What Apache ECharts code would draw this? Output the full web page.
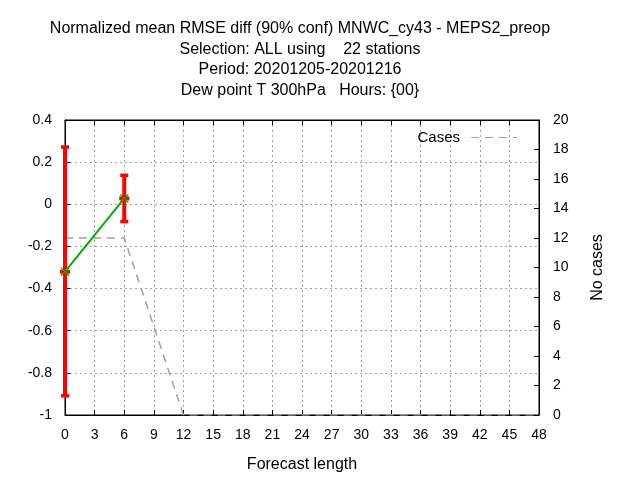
<!DOCTYPE html>
<html><head><meta charset="utf-8">
<script src="https://cdn.jsdelivr.net/npm/echarts@6/dist/echarts.min.js"></script>
<style>html,body{margin:0;padding:0;background:#fff}#c{width:640px;height:480px}</style>
</head><body><div id="c"></div>
<script>
const titleLines = ["Normalized mean RMSE diff (90% conf) MNWC_cy43 - MEPS2_preop","Selection: ALL using    22 stations","Period: 20201205-20201216","Dew point T 300hPa   Hours: {00}"];
const scoreHours = [0, 6];
const scoreValues = [-0.32, 0.028];
const scoreLower = [-0.91, -0.083];
const scoreUpper = [0.273, 0.139];
const caseHours = [0, 6, 12, 18, 24, 30, 36, 42, 48];
const caseValues = [12, 12, 0, 0, 0, 0, 0, 0, 0];

const FONT = "Liberation Sans";
const chart = echarts.init(document.getElementById('c'), null, {renderer:'canvas'});
const errData = scoreHours.map((h,i)=>[h, scoreLower[i], scoreUpper[i], scoreValues[i]]);
const lineData = scoreHours.map((h,i)=>[h, scoreValues[i]]);
const caseData = caseHours.map((h,i)=>[h, caseValues[i]]);
const gridStyle = {show:true, lineStyle:{color:'#a0a0a0', type:[2,3], width:1}};
const axisLineStyle = {show:true, onZero:false, lineStyle:{color:'#000', width:1}};
const tickStyle = {show:true, inside:true, length:5, lineStyle:{color:'#000'}};
chart.setOption({
  animation:false,
  textStyle:{fontFamily:FONT},
  graphic: titleLines.map((t,i)=>({type:'text', x:300, y:21+i*20.4, style:{text:t, fontSize:16, fontFamily:FONT, fill:'#000', textAlign:'center', textVerticalAlign:'top'}})),
  grid:{left:65, right:101, top:120, bottom:65, show:true, borderColor:'#000', borderWidth:1, backgroundColor:'transparent'},
  legend:{show:true, right:118, top:125, itemWidth:46, itemHeight:2, align:'right', itemGap:0,
    textStyle:{fontSize:15, fontFamily:FONT, color:'#000', padding:[0,6,0,0]},
    data:[{name:'Cases', icon:'path://M0,0h8v1h-8z M14,0h8v1h-8z M28,0h8v1h-8z M42,0h4v1h-4z', itemStyle:{color:'#a0a0a0'}}]},
  xAxis:[{type:'value', min:0, max:48, interval:3, position:'bottom',
    axisLine:axisLineStyle, axisTick:tickStyle,
    axisLabel:{fontSize:14, color:'#000', margin:13, fontFamily:FONT}, splitLine:gridStyle,
    name:'Forecast length', nameLocation:'middle', nameGap:42, nameTextStyle:{fontSize:16, color:'#000', fontFamily:FONT}},
    {type:'value', min:0, max:48, interval:3, position:'top',
    axisLine:axisLineStyle, axisTick:tickStyle,
    axisLabel:{show:false}, splitLine:{show:false}}],
  yAxis:[{type:'value', min:-1, max:0.4, interval:0.2, position:'left',
    axisLine:axisLineStyle, axisTick:tickStyle,
    axisLabel:{fontSize:14, color:'#000', margin:13, fontFamily:FONT, formatter:v=>String(Math.round(v*10)/10)}, splitLine:gridStyle},
    {type:'value', min:0, max:20, interval:2, position:'right',
    axisLine:axisLineStyle, axisTick:tickStyle,
    axisLabel:{fontSize:14, color:'#000', margin:14, fontFamily:FONT}, splitLine:{show:false},
    name:'No cases', nameLocation:'middle', nameGap:51, nameRotate:90, nameTextStyle:{fontSize:16, color:'#000', fontFamily:FONT}}],
  series:[
    {name:'Cases', type:'line', xAxisIndex:0, yAxisIndex:1, data:caseData, symbol:'none',
     lineStyle:{color:'#a0a0a0', width:1.5, type:[8,6]}, itemStyle:{color:'#a0a0a0'}, z:2},
    {name:'err', type:'custom', xAxisIndex:0, yAxisIndex:0, data:errData, clip:false, z:3,
     encode:{x:0, y:[1,2]},
     renderItem:(params, api)=>{
       const x = api.value(0);
       const lo = api.coord([x, api.value(1)]);
       const up = api.coord([x, api.value(2)]);
       const md = api.coord([x, api.value(3)]);
       const red = '#ff0000';
       return {type:'group', children:[
         {type:'rect', shape:{x:lo[0]-2, y:up[1], width:4, height:lo[1]-up[1]}, style:{fill:red}},
         {type:'rect', shape:{x:lo[0]-4, y:up[1]-1.5, width:8, height:3.5}, style:{fill:red}},
         {type:'rect', shape:{x:lo[0]-4, y:lo[1]-2, width:8, height:3.5}, style:{fill:red}},
         {type:'rect', shape:{x:md[0]-5, y:md[1]-2, width:10, height:4}, style:{fill:red}}
       ]};
     }},
    {name:'score', type:'line', xAxisIndex:0, yAxisIndex:0, data:lineData,
     symbol:'path://M0,1 L1,0 L5,4 L9,0 L10,1 L6,5 L10,9 L9,10 L5,6 L1,10 L0,9 L4,5 Z', symbolSize:9,
     lineStyle:{color:'#00b000', width:2}, itemStyle:{color:'#00b000'}, z:4, clip:false}
  ]
});
</script></body></html>
